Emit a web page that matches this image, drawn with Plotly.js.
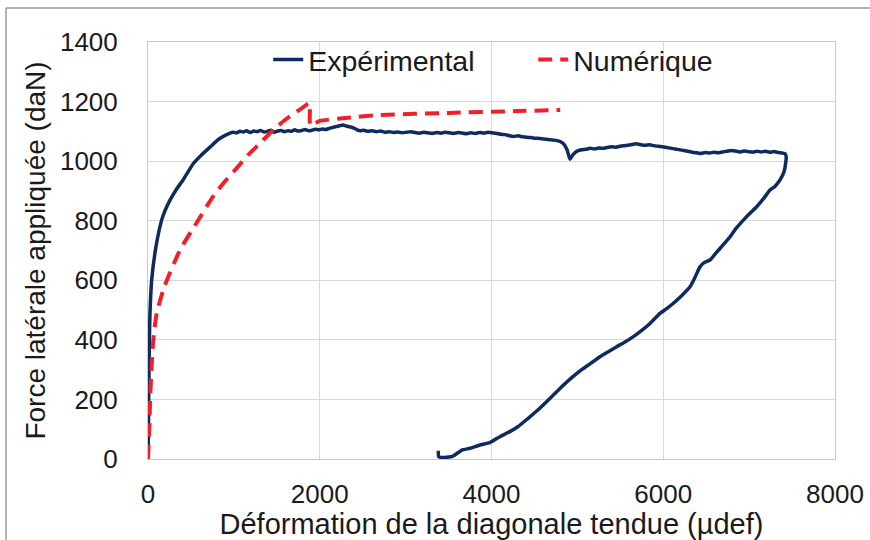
<!DOCTYPE html>
<html>
<head>
<meta charset="utf-8">
<script src="https://cdn.plot.ly/plotly-3.0.1.min.js"></script>
<style>
  html, body { margin: 0; padding: 0; background: #ffffff; }
  #chart { width: 870px; height: 540px; }
</style>
</head>
<body>
<div id="chart"></div>
<script>
const expStrain = [
  0, 5, 8, 12, 16, 23, 43, 93, 159, 200, 256, 330, 408, 528, 620, 722, 830, 955,
  990, 1030, 1070, 1110, 1150, 1190, 1230, 1270, 1310, 1350, 1390, 1430, 1470, 1510, 1550, 1590,
  1630, 1670, 1710, 1750, 1790, 1830, 1870, 1910, 1950, 1990, 2030, 2070, 2110, 2150, 2190, 2230,
  2270, 2310, 2350, 2390, 2430, 2470, 2510, 2560, 2610, 2660, 2710, 2760, 2810, 2860, 2910, 2960,
  3010, 3060, 3110, 3160, 3210, 3260, 3310, 3360, 3410, 3460, 3510, 3560, 3610, 3660, 3710, 3760,
  3810, 3860, 3910, 3960, 4010, 4060, 4110, 4160, 4210, 4260, 4310, 4360, 4410, 4460, 4510, 4560,
  4610, 4660, 4710, 4760, 4800, 4840, 4880, 4914, 4940, 4970, 5010, 5050, 5100, 5150, 5200, 5250,
  5300, 5350, 5400, 5450, 5500, 5550, 5600, 5650, 5690, 5740, 5790, 5840, 5890, 5940, 5990, 6040,
  6090, 6140, 6190, 6240, 6290, 6340, 6390, 6440, 6490, 6540, 6590, 6640, 6690, 6740, 6790, 6840,
  6890, 6940, 6990, 7040, 7090, 7140, 7190, 7240, 7290, 7340, 7390, 7420, 7432, 7425, 7410, 7385,
  7359, 7300, 7243, 7170, 7088, 7010, 6933, 6850, 6778, 6700, 6610, 6545, 6480, 6428, 6370, 6312,
  6220, 6118, 6040, 5962, 5846, 5750, 5652, 5550, 5458, 5360, 5263, 5150, 5050, 4914, 4780, 4650,
  4530, 4420, 4311, 4214, 4098, 3981, 3865, 3749, 3655, 3554, 3478, 3420, 3385, 3380
];
const expForce = [
  0, 100, 200, 300, 400, 489, 601, 713, 802, 835, 869, 905, 937, 992, 1020, 1047, 1075, 1094,
  1097, 1095, 1100, 1098, 1102, 1096, 1101, 1099, 1103, 1098, 1100, 1104, 1097, 1101, 1103, 1099,
  1102, 1100, 1105, 1101, 1103, 1106, 1102, 1104, 1107, 1105, 1108, 1106, 1110, 1113, 1116, 1119,
  1121, 1118, 1115, 1112, 1106, 1102, 1104, 1100, 1102, 1099, 1101, 1097, 1099, 1096, 1098, 1095,
  1097, 1099, 1096, 1094, 1097, 1095, 1093, 1096, 1094, 1097, 1095, 1093, 1096, 1094, 1092, 1095,
  1093, 1096, 1094, 1097, 1095, 1093, 1090, 1089, 1085, 1083, 1085, 1082, 1080, 1079, 1077, 1076,
  1074, 1073, 1071, 1069, 1066, 1058, 1038, 1006, 1018, 1028, 1035, 1038, 1040, 1043, 1041, 1044,
  1043, 1046, 1048, 1047, 1050, 1052, 1054, 1057, 1058, 1055, 1053, 1055, 1052, 1050, 1048, 1046,
  1043, 1041, 1038, 1036, 1033, 1030, 1028, 1026, 1029, 1027, 1030, 1028, 1031, 1033, 1036, 1034,
  1031, 1034, 1032, 1030, 1033, 1031, 1033, 1030, 1032, 1029, 1027, 1025, 1012, 993, 968, 950,
  937, 915, 903, 875, 847, 825, 802, 775, 746, 720, 690, 668, 660, 645, 610, 578,
  550, 523, 505, 489, 455, 432, 411, 392, 377, 360, 343, 320, 300, 268, 232, 195,
  162, 135, 109, 92, 75, 55, 47, 36, 30, 10, 6, 5, 8, 28
];
// Numerical curve
const numStrain = [0, 15, 25, 40, 62, 101, 190, 373, 560, 745, 862, 1013, 1164, 1304, 1455, 1595, 1793, 1880, 1890, 2000, 2300, 2700, 3500, 4300, 4800];
const numForce  = [0, 100, 200, 300, 400, 489, 578, 702, 790, 876, 920, 970, 1020, 1060, 1104, 1138, 1178, 1195, 1120, 1135, 1145, 1155, 1162, 1168, 1172];

const seriesNames = ["Expérimental", "Numérique"];
const xTickVals = [0, 2000, 4000, 6000, 8000];
const yTickVals = [0, 200, 400, 600, 800, 1000, 1200, 1400];

const FONT = "Liberation Sans, Arial, sans-serif";

const traces = [
  {
    x: expStrain, y: expForce, name: seriesNames[0], type: "scatter", mode: "lines",
    line: { color: "#0f2a5e", width: 3.5, shape: "spline", smoothing: 0.4 }
  },
  {
    x: numStrain, y: numForce, name: seriesNames[1], type: "scatter", mode: "lines",
    line: { color: "#f0202a", width: 4, dash: "14px,8px", shape: "spline", smoothing: 0.5 }
  }
];

const layout = {
  width: 870, height: 540,
  margin: { l: 148, r: 35, t: 42, b: 81 },
  paper_bgcolor: "#ffffff", plot_bgcolor: "#ffffff",
  font: { family: FONT, color: "#1a1a1a", size: 26 },
  showlegend: true,
  legend: {
    orientation: "h", x: 0.175, y: 0.957, xanchor: "left", yanchor: "middle",
    font: { family: FONT, size: 28.5, color: "#1a1a1a" },
    bgcolor: "rgba(0,0,0,0)", entrywidth: 220
  },
  xaxis: {
    range: [0, 8000], tickvals: xTickVals, ticktext: xTickVals.map(String),
    showgrid: true, gridcolor: "#d9d9d9", gridwidth: 1,
    showline: true, linecolor: "#c8c8c8", linewidth: 1, mirror: true,
    zeroline: false, ticks: "", ticklabelstandoff: 12,
    tickfont: { family: FONT, size: 26, color: "#1a1a1a" },
    title: { text: "Déformation de la diagonale tendue (µdef)", font: { family: FONT, size: 29, color: "#1a1a1a" }, standoff: 4 }
  },
  yaxis: {
    range: [0, 1400], tickvals: yTickVals, ticktext: yTickVals.map(String),
    showgrid: true, gridcolor: "#d9d9d9", gridwidth: 1,
    showline: true, linecolor: "#c8c8c8", linewidth: 1, mirror: true,
    zeroline: false, ticks: "", ticklabelstandoff: 24,
    tickfont: { family: FONT, size: 26, color: "#1a1a1a" },
    title: { text: "Force latérale appliquée (daN)", font: { family: FONT, size: 28, color: "#1a1a1a" }, standoff: 6 }
  },
  shapes: [
    { type: "line", xref: "paper", yref: "paper", x0: -0.2067, x1: 1.06, y0: 1.0815, y1: 1.0815,
      line: { color: "#9a9a9a", width: 1.5 } },
    { type: "line", xref: "paper", yref: "paper", x0: -0.2067, x1: -0.2067, y0: 1.0815, y1: -0.22,
      line: { color: "#9a9a9a", width: 1.5 } }
  ]
};

Plotly.newPlot("chart", traces, layout, { displayModeBar: false, staticPlot: true });
</script>
</body>
</html>
